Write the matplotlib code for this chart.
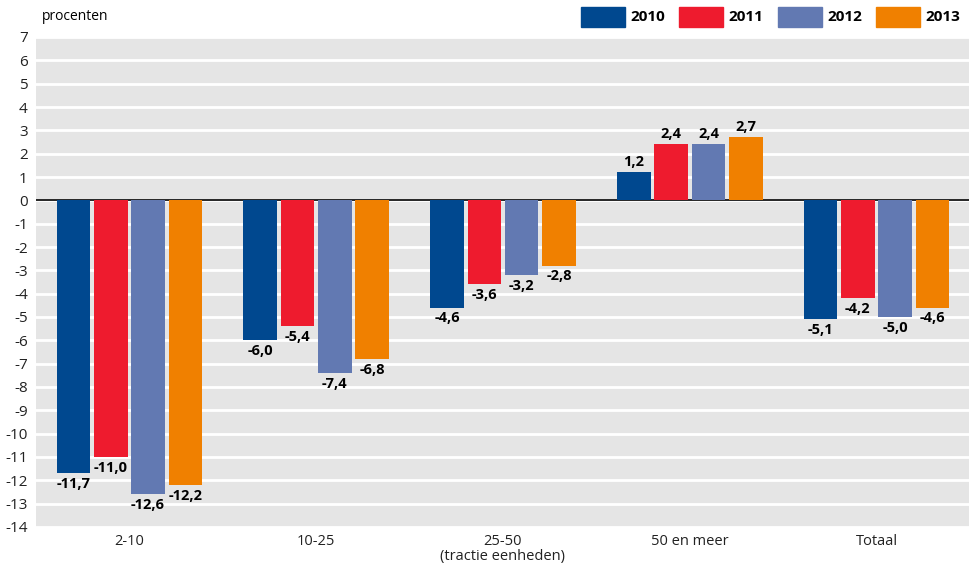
import numpy as np
import matplotlib.pyplot as plt
from matplotlib.patches import Rectangle

# data
groups = ['2-10', '10-25', '25-50\n(tractie eenheden)', '50 en meer', 'Totaal']
years = ['2010', '2011', '2012', '2013']
v2010 = [-11.7, -6.0, -4.6, 1.2, -5.1]
v2011 = [-11.0, -5.4, -3.6, 2.4, -4.2]
v2012 = [-12.6, -7.4, -3.2, 2.4, -5.0]
v2013 = [-12.2, -6.8, -2.8, 2.7, -4.6]
yticks = list(range(-14, 8))

colors = ['#00488F', '#EE1B2E', '#6279B2', '#F08000']
bg = '#E5E5E5'

plt.rcParams['font.family'] = ['Open Sans', 'DejaVu Sans']
narrow = ['Liberation Sans Narrow', 'Open Sans', 'DejaVu Sans']

fig = plt.figure(figsize=(9.7, 5.68), dpi=100, facecolor='white')
ax = fig.add_axes([36/970, 41/568, 934/970, 490/568])
ax.set_facecolor(bg)

x = np.arange(len(groups))
w = 0.18
step = 0.2
series = [v2010, v2011, v2012, v2013]
for i, vals in enumerate(series):
    xs = x + (i - 1.5) * step
    ax.bar(xs, vals, width=w, color=colors[i], zorder=3)
    for xi, v in zip(xs, vals):
        lab = ('%.1f' % v).replace('.', ',')
        if v >= 0:
            ax.text(xi, v + 0.15, lab, ha='center', va='bottom', fontsize=10.5,
                    fontweight='bold', family=narrow, zorder=4)
        else:
            ax.text(xi, v - 0.15, lab, ha='center', va='top', fontsize=10.5,
                    fontweight='bold', family=narrow, zorder=4)

ax.set_xlim(-0.5, len(groups) - 0.5)
ax.set_ylim(-14, 7)
ax.set_yticks(yticks)
ax.set_yticklabels([str(t) for t in yticks], fontsize=11, color='#222222')
ax.set_xticks(x)
ax.set_xticklabels(groups, fontsize=10.5, color='#222222', linespacing=1.0)
ax.tick_params(length=0, pad=6)
ax.tick_params(axis='x', pad=5)
ax.grid(axis='y', color='white', linewidth=2, zorder=1)
ax.set_axisbelow(True)
ax.axhline(0, color='black', linewidth=1.2, zorder=2)
for s in ax.spines.values():
    s.set_visible(False)

fig.text(42/970, 1 - 17/568, 'procenten', fontsize=10, va='center', ha='left')

# legend drawn by hand
for i, yr in enumerate(years):
    x0 = 581 + i * 98.5
    fig.add_artist(Rectangle((x0/970, 1 - 27/568), 44/970, 20/568,
                             transform=fig.transFigure, color=colors[i]))
    fig.text((x0 + 49)/970, 1 - 17/568, yr, fontsize=11, fontweight='bold',
             va='center', ha='left')

plt.savefig('out.png', dpi=100)
